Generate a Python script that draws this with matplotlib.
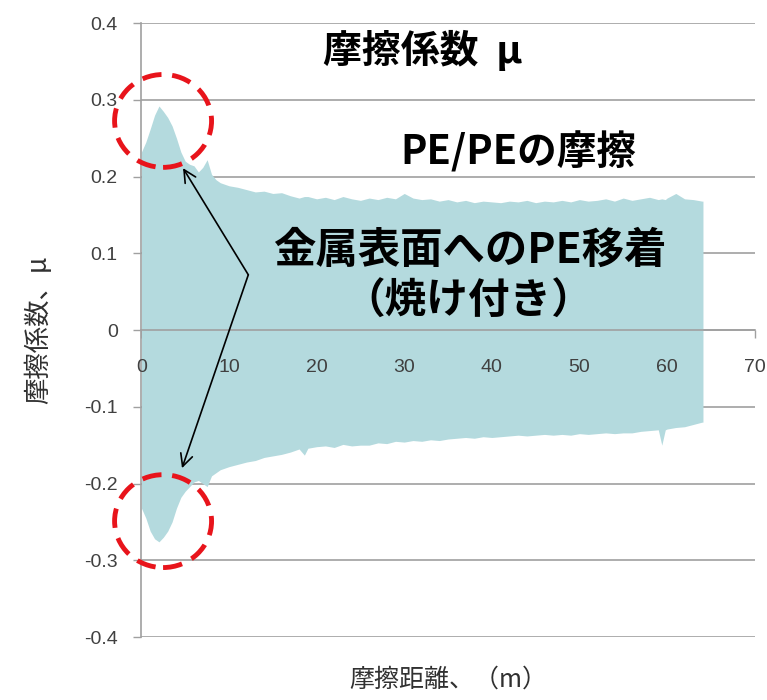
import matplotlib
matplotlib.use("Agg")
import matplotlib.pyplot as plt
from matplotlib.patches import Ellipse

plt.rcParams['font.family'] = ['Noto Sans CJK JP', 'DejaVu Sans']

# sliding distance (m) and the upper / lower envelope of the friction coefficient
distance = [0, 0.5, 1, 1.5, 2, 2.5, 3, 3.5, 4, 4.5, 5, 5.5, 6, 6.5, 7, 7.5,
            8, 8.5, 9, 9.5, 10, 11, 12, 13, 14, 15, 16, 17, 18, 18.6, 19, 20,
            21, 22, 23, 24, 25, 26, 27, 28, 29, 30, 31, 32, 33, 34, 35, 36,
            37, 38, 39, 40, 41, 42, 43, 44, 45, 46, 47, 48, 49, 50, 51, 52,
            53, 54, 55, 56, 57, 58, 59, 59.4, 59.8, 60, 61, 62, 63, 64, 64.1]
mu_upper = [0.232, 0.245, 0.262, 0.280, 0.292, 0.285, 0.277, 0.266, 0.250, 0.232,
            0.220, 0.216, 0.214, 0.206, 0.212, 0.222, 0.203, 0.196, 0.192, 0.190,
            0.188, 0.186, 0.183, 0.180, 0.181, 0.178, 0.179, 0.175, 0.172, 0.174,
            0.174, 0.171, 0.173, 0.170, 0.174, 0.171, 0.169, 0.172, 0.170, 0.173,
            0.171, 0.178, 0.172, 0.170, 0.171, 0.168, 0.170, 0.167, 0.169, 0.166,
            0.168, 0.167, 0.166, 0.168, 0.167, 0.169, 0.166, 0.168, 0.167, 0.169,
            0.167, 0.170, 0.168, 0.169, 0.171, 0.168, 0.172, 0.169, 0.171, 0.173,
            0.170, 0.171, 0.170, 0.172, 0.178, 0.171, 0.170, 0.168, 0.168]
mu_lower = [-0.232, -0.245, -0.262, -0.272, -0.276, -0.270, -0.262, -0.250, -0.232, -0.218,
            -0.210, -0.204, -0.198, -0.196, -0.200, -0.204, -0.190, -0.186, -0.182, -0.180,
            -0.178, -0.175, -0.172, -0.170, -0.166, -0.164, -0.162, -0.159, -0.155, -0.163,
            -0.154, -0.152, -0.151, -0.153, -0.149, -0.151, -0.150, -0.150, -0.147, -0.148,
            -0.145, -0.146, -0.144, -0.145, -0.143, -0.144, -0.142, -0.141, -0.140, -0.141,
            -0.139, -0.140, -0.139, -0.138, -0.137, -0.138, -0.137, -0.136, -0.137, -0.136,
            -0.137, -0.135, -0.136, -0.135, -0.134, -0.135, -0.134, -0.134, -0.132, -0.131,
            -0.130, -0.150, -0.130, -0.129, -0.127, -0.126, -0.123, -0.120, -0.120]

x_ticks = [0, 10, 20, 30, 40, 50, 60, 70]
y_ticks = [-0.4, -0.3, -0.2, -0.1, 0, 0.1, 0.2, 0.3, 0.4]
y_tick_labels = ['-0.4', '-0.3', '-0.2', '-0.1', '0', '0.1', '0.2', '0.3', '0.4']

grid_grey = '#a0a0a0'
tick_color = '#404040'
num_font = ['Liberation Sans', 'DejaVu Sans']

fig = plt.figure(figsize=(7.67, 7.0), dpi=100)
ax = fig.add_axes([0.1844, 0.09, 0.7995, 0.877])

ax.fill_between(distance, mu_lower, mu_upper, color='#b4dade', linewidth=0, zorder=1)

ax.set_xlim(0, 70)
ax.set_ylim(-0.4, 0.4)
ax.set_axisbelow(True)

# y axis
ax.set_yticks(y_ticks)
ax.set_yticklabels(y_tick_labels, fontsize=14, color=tick_color, family=num_font)
ax.yaxis.grid(True, color=grid_grey, linewidth=1.2)
ax.tick_params(axis='y', length=6, width=1, color=grid_grey, pad=11)

# x axis crosses at zero, labels drawn on top of the fill
ax.set_xticks(x_ticks)
ax.tick_params(axis='x', length=6, width=1, color=grid_grey, labelbottom=False)
ax.spines['bottom'].set_position(('data', 0))
for t in x_ticks:
    ax.text(t, -0.049, str(t), ha='center', va='center', fontsize=14,
            color=tick_color, family=num_font, zorder=3)

for side in ['top', 'right']:
    ax.spines[side].set_visible(False)
for side in ['left', 'bottom']:
    ax.spines[side].set_color(grid_grey)
    ax.spines[side].set_linewidth(1.2)

ax.set_ylabel('摩擦係数、μ', fontsize=19, color='#303030')
ax.yaxis.set_label_coords(-0.145, 0.5)
ax.set_xlabel('摩擦距離、（m）', fontsize=18, color='#303030')
ax.xaxis.set_label_coords(0.50, -0.048)

# annotations
ax.text(32.1, 0.364, '摩擦係数  μ', ha='center', va='center', fontsize=28,
        fontweight='bold', zorder=4)
ax.text(43.0, 0.231, 'PE/PEの摩擦', ha='center', va='center', fontsize=28.5,
        fontweight='bold', zorder=4)
ax.text(37.5, 0.103, '金属表面へのPE移着', ha='center', va='center', fontsize=30.5,
        fontweight='bold', zorder=4)
ax.text(37.3, 0.037, '（焼け付き）', ha='center', va='center', fontsize=30,
        fontweight='bold', zorder=4)

for target in [(4.75, 0.211), (4.63, -0.180)]:
    ax.annotate('', xy=target, xytext=(12.2, 0.072),
                arrowprops=dict(arrowstyle='->', color='black', lw=1.2,
                                mutation_scale=22, shrinkA=0, shrinkB=0),
                zorder=4)

for cy in [0.2725, -0.249]:
    ax.add_patch(Ellipse((2.47, cy), 11.07, 0.121, fill=False, edgecolor='#e8141b',
                         linewidth=3.5, linestyle=(0, (4, 2.2)), zorder=5,
                         clip_on=False))

fig.savefig('out.png', dpi=100)
